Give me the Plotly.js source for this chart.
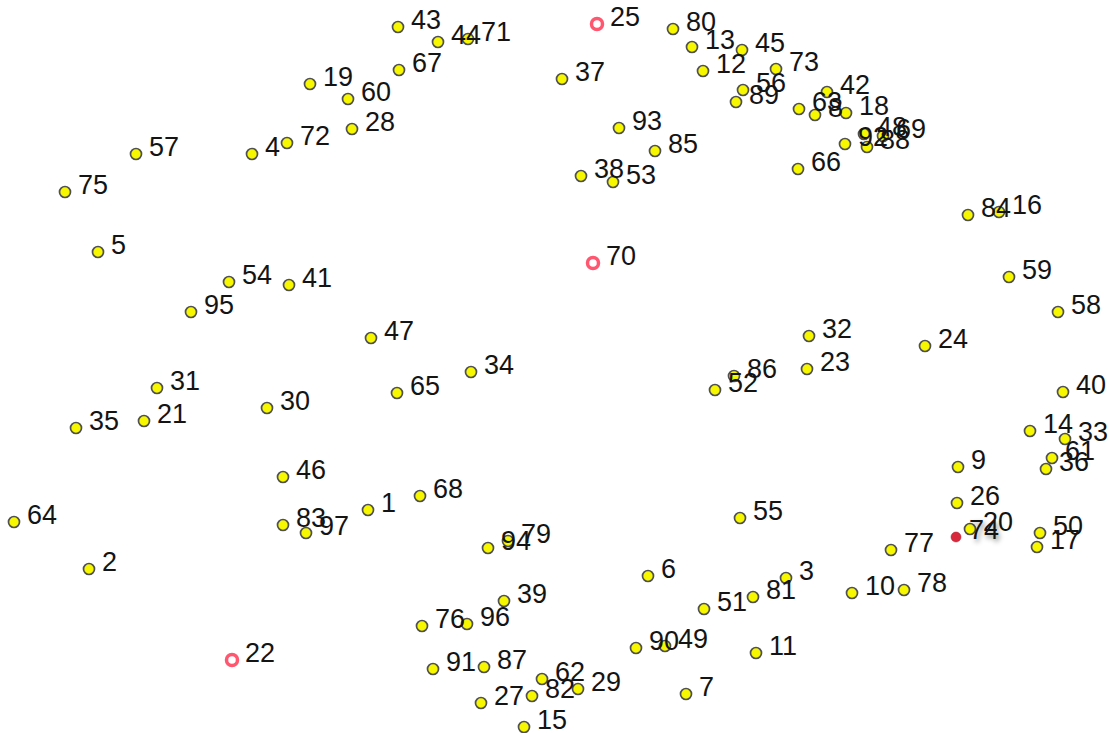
<!DOCTYPE html>
<html>
<head>
<meta charset="utf-8">
<script src="https://cdn.plot.ly/plotly-3.0.1.min.js"></script>
<style>html,body{margin:0;padding:0;background:#fff;}#chart{width:1110px;height:733px;}</style>
</head>
<body>
<div id="chart"></div>
<script>
// Yellow points: labels and coordinates (y grows downward)
const yLabels = ["43","44","71","67","19","60","28","72","4","57","75","5","54","41","95","37","80","13","12","45","73","56","89","63","8","42","18","93","85","38","53","66","92","48","88","69","84","16","59","58","24","32","23","86","52","47","34","65","30","31","21","35","40","14","33","61","36","9","26","20","50","17","77","10","78","55","46","1","68","83","97","64","2","94","79","6","3","81","51","39","76","96","90","49","11","91","87","62","29","82","27","7","15"];
const yX = [398,438,468,399,310,348,352,287,252,136,65,98,229,289,191,562,673,692,703,742,776,743,736,799,815,827,846,619,655,581,613,798,845,864,867,883,968,999,1009,1058,925,809,807,734,715,371,471,397,267,157,144,76,1063,1030,1065,1052,1046,958,957,970,1040,1037,891,852,904,740,283,368,420,283,306,14,89,488,508,648,786,753,704,504,422,467,636,665,756,433,484,542,578,532,481,686,524];
const yY = [27,42,39,70,84,99,129,143,154,154,192,252,282,285,312,79,29,47,71,50,69,90,102,109,115,92,113,128,151,176,182,169,144,134,147,136,215,212,277,312,346,336,369,376,390,338,372,393,408,388,421,428,392,431,439,458,469,467,503,529,533,547,550,593,590,518,477,510,496,525,533,522,569,548,541,576,578,597,609,601,626,624,648,646,653,669,667,679,689,696,703,694,727];

// Open red ring points
const rLabels = ["25","70","22"];
const rX = [597,593,232];
const rY = [24,263,660];

// Highlighted point
const hLabels = ["74"];
const hX = [956];
const hY = [537];

const yellow = {
  x: yX, y: yY, mode: 'markers', type: 'scatter', hoverinfo: 'text', text: yLabels,
  marker: {size: 11, color: '#f7f700', line: {color: '#505050', width: 1.7}}
};
const rings = {
  x: rX, y: rY, mode: 'markers', type: 'scatter', hoverinfo: 'text', text: rLabels,
  marker: {symbol: 'circle-open', size: 11, color: '#ff5770', line: {color: '#ff5770', width: 3.5}}
};
const hl = {
  x: hX, y: hY, mode: 'markers', type: 'scatter', hoverinfo: 'text', text: hLabels,
  marker: {size: 10, color: '#d8283c', line: {color: '#b01828', width: 0.5}}
};

const annotations = [];
function addLabels(labels, xs, ys, shadow) {
  for (let i = 0; i < labels.length; i++) {
    annotations.push({
      x: xs[i], y: ys[i], text: labels[i], showarrow: false,
      xanchor: 'left', yanchor: 'middle', xshift: 12, yshift: 7, borderpad: 0,
      font: {family: 'Liberation Sans, Arial, sans-serif', size: 27, color: '#141414', shadow: shadow ? '2px 3px 5px rgba(0,0,0,0.45)' : 'none'}
    });
  }
}
addLabels(yLabels, yX, yY, false);
addLabels(rLabels, rX, rY, false);
addLabels(hLabels, hX, hY, true);

const layout = {
  width: 1110, height: 733,
  margin: {l: 0, r: 0, t: 0, b: 0},
  paper_bgcolor: '#ffffff', plot_bgcolor: '#ffffff',
  showlegend: false,
  xaxis: {range: [0, 1110], visible: false, fixedrange: true},
  yaxis: {range: [733, 0], visible: false, fixedrange: true},
  annotations: annotations
};

Plotly.newPlot('chart', [yellow, rings, hl], layout, {displayModeBar: false, staticPlot: true});
</script>
</body>
</html>
